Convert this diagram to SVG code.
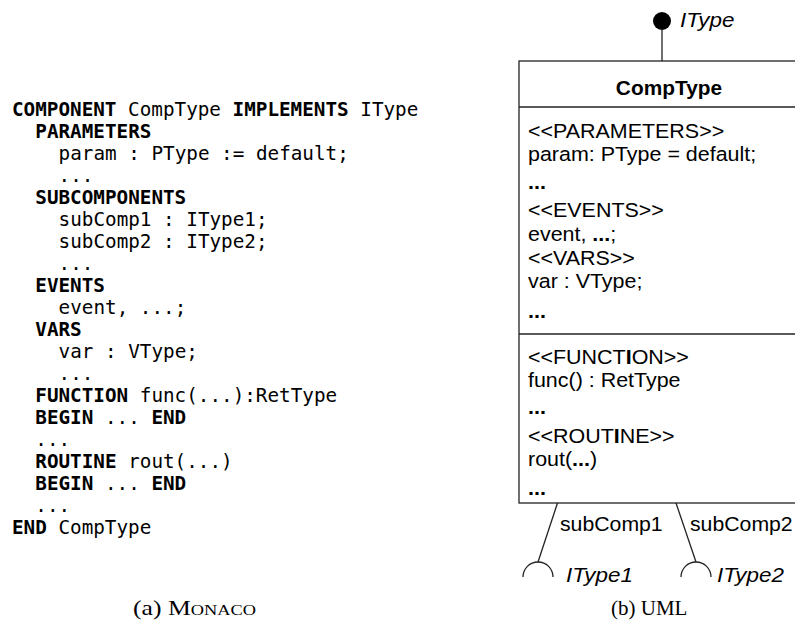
<svg xmlns="http://www.w3.org/2000/svg" width="795" height="632" viewBox="0 0 795 632">
  <style>
    .code { font-family: "DejaVu Sans Mono", "Liberation Mono", monospace; font-size: 19.3px; fill: #000; }
    .kw { font-weight: bold; }
    .uml { font-family: "Liberation Sans", Arial, sans-serif; font-size: 19.5px; fill: #000; }
    .it { font-style: italic; }
    .b { font-weight: bold; }
    .cap { font-family: "Liberation Serif", "Times New Roman", serif; font-size: 21px; fill: #000; }
    .ln { stroke: #222; stroke-width: 1.3; fill: none; }
  </style>

  <!-- (a) textual component declaration -->
  <g id="monaco-code" class="code">
    <text x="12" y="116"><tspan class="kw">COMPONENT</tspan> CompType <tspan class="kw">IMPLEMENTS</tspan> IType</text>
    <text x="35.3" y="138" class="kw">PARAMETERS</text>
    <text x="58.6" y="160">param : PType := default;</text>
    <text x="58.6" y="182">...</text>
    <text x="35.3" y="204" class="kw">SUBCOMPONENTS</text>
    <text x="58.6" y="226">subComp1 : IType1;</text>
    <text x="58.6" y="248">subComp2 : IType2;</text>
    <text x="58.6" y="270">...</text>
    <text x="35.3" y="292" class="kw">EVENTS</text>
    <text x="58.6" y="314">event, ...;</text>
    <text x="35.3" y="336" class="kw">VARS</text>
    <text x="58.6" y="358">var : VType;</text>
    <text x="58.6" y="380">...</text>
    <text x="35.3" y="402"><tspan class="kw">FUNCTION</tspan> func(...):RetType</text>
    <text x="35.3" y="424"><tspan class="kw">BEGIN</tspan> ... <tspan class="kw">END</tspan></text>
    <text x="35.3" y="446">...</text>
    <text x="35.3" y="468"><tspan class="kw">ROUTINE</tspan> rout(...)</text>
    <text x="35.3" y="490"><tspan class="kw">BEGIN</tspan> ... <tspan class="kw">END</tspan></text>
    <text x="35.3" y="512">...</text>
    <text x="12" y="534"><tspan class="kw">END</tspan> CompType</text>
  </g>

  <!-- (b) UML component class; the text is drawn slightly widened -->
  <g id="comp-type">
    <rect class="ln" x="519" y="61" width="320" height="442" fill="#fff"/>
    <line class="ln" x1="519" y1="107" x2="839" y2="107"/>
    <line class="ln" x1="519" y1="334" x2="839" y2="334"/>
    <text class="uml b" x="669" y="95" text-anchor="middle" transform="matrix(1.07,0,0,1,-46.83,0)">CompType</text>
    <g class="uml" transform="matrix(1.1,0,0,1,-52.8,0)">
      <text x="528" y="138">&lt;&lt;PARAMETERS&gt;&gt;</text>
      <text x="528" y="161">param: PType = default;</text>
      <text x="528" y="189" class="b">...</text>
      <text x="528" y="217">&lt;&lt;EVENTS&gt;&gt;</text>
      <text x="528" y="241">event, <tspan class="b">...</tspan>;</text>
      <text x="528" y="265">&lt;&lt;VARS&gt;&gt;</text>
      <text x="528" y="288">var : VType;</text>
      <text x="528" y="318" class="b">...</text>
      <text x="528" y="364">&lt;&lt;FUNCT<tspan class="b">I</tspan>ON&gt;&gt;</text>
      <text x="528" y="387">func() : RetType</text>
      <text x="528" y="414" class="b">...</text>
      <text x="528" y="443">&lt;&lt;ROUT<tspan class="b">I</tspan>NE&gt;&gt;</text>
      <text x="528" y="466">rout(<tspan class="b">...</tspan>)</text>
      <text x="528" y="495" class="b">...</text>
    </g>
  </g>

  <!-- provided interface (lollipop) -->
  <g id="itype">
    <circle cx="662" cy="21" r="9" fill="#000"/>
    <text class="uml it" transform="translate(680,27) scale(1.15,1)">IType</text>
  </g>

  <!-- required interfaces (sockets) -->
  <g id="itype1">
    <path class="ln" d="M523,577 A15,15 0 0 1 553,577"/>
    <text class="uml it" transform="translate(566,582) scale(1.15,1)">IType1</text>
  </g>
  <g id="itype2">
    <path class="ln" d="M681,577 A15,15 0 0 1 711,577"/>
    <text class="uml it" transform="translate(717,582) scale(1.15,1)">IType2</text>
  </g>

  <!-- connectors -->
  <g id="connectors">
    <line class="ln" x1="662" y1="30" x2="662" y2="61"/>
    <line class="ln" x1="557.5" y1="503" x2="538" y2="562"/>
    <line class="ln" x1="676" y1="503" x2="696" y2="562"/>
    <text class="uml" transform="translate(560,531) scale(1.09,1)">subComp1</text>
    <text class="uml" transform="translate(690,531) scale(1.09,1)">subComp2</text>
  </g>

  <!-- captions -->
  <g id="captions" class="cap">
    <text x="133" y="615" textLength="123" lengthAdjust="spacingAndGlyphs">(a) <tspan font-variant="small-caps">Monaco</tspan></text>
    <text x="611" y="615">(b) UML</text>
  </g>
</svg>
